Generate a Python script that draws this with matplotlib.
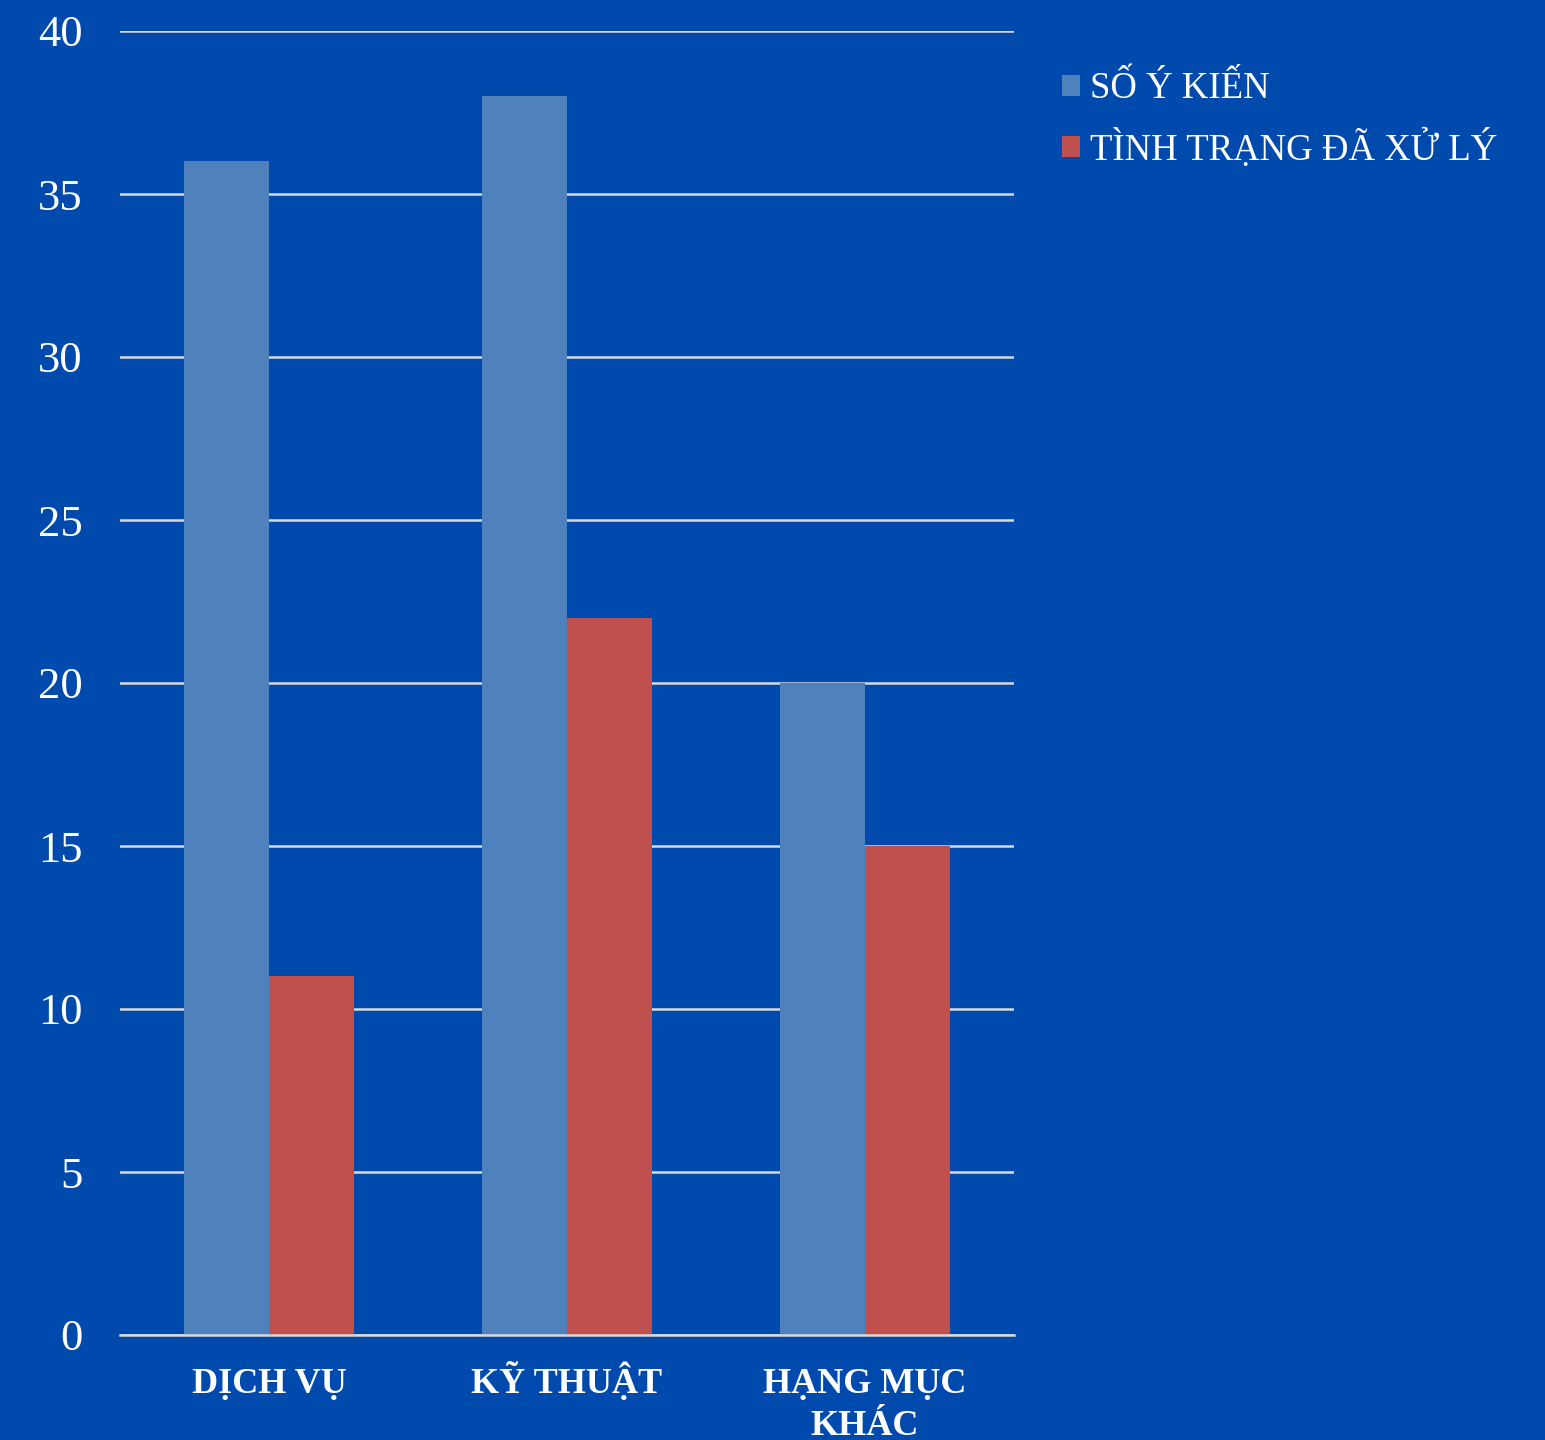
import matplotlib.pyplot as plt
import numpy as np

categories = ['DỊCH VỤ', 'KỸ THUẬT', 'HẠNG MỤC\nKHÁC']
so_y_kien = [36, 38, 20]
da_xu_ly = [11, 22, 15]
series_names = ['SỐ Ý KIẾN', 'TÌNH TRẠNG ĐÃ XỬ LÝ']

bg = '#004AAD'
plt.rcParams['font.family'] = ['Liberation Serif', 'DejaVu Serif']

fig = plt.figure(figsize=(15.45, 14.4), dpi=100, facecolor=bg)
ax = fig.add_axes([120 / 1545, 105 / 1440, 894 / 1545, 1304 / 1440])
ax.set_facecolor(bg)

x = np.arange(len(categories))
w = 85 / 298
ax.bar(x - w / 2, so_y_kien, w, color='#4F81BD', label=series_names[0], zorder=2)
ax.bar(x + w / 2, da_xu_ly, w, color='#C0504D', label=series_names[1], zorder=2)

ax.set_xlim(-0.5, 2.5)
ax.set_ylim(0, 40)
ax.set_yticks(range(0, 41, 5))
ax.yaxis.grid(True, color='#D9D9D9', linewidth=1.8, zorder=1)
ax.set_axisbelow(True)
for s in ['top', 'right', 'left']:
    ax.spines[s].set_visible(False)
ax.spines['bottom'].set_color('#D9D9D9')
ax.spines['bottom'].set_linewidth(1.8)
ax.spines['bottom'].set_zorder(3)

ax.tick_params(axis='y', length=0, pad=27, labelsize=32, labelcolor='white')
ax.set_xticks(x)
ax.set_xticklabels([])
ax.tick_params(axis='x', length=0)

# category labels: one text per line so baselines line up
for xi, lab in zip(x, categories):
    for k, line in enumerate(lab.split('\n')):
        ax.text(xi, -(58 + 42 * k) / 1304, line, transform=ax.get_xaxis_transform(),
                ha='center', va='baseline', fontsize=26, fontweight='bold',
                color='white')

fig.legend(loc='upper left', bbox_to_anchor=(1062 / 1545, 1 - 72 / 1440),
           frameon=False, fontsize=26.5, labelcolor='white', handlelength=0.5,
           handleheight=0.5, handletextpad=0.27, labelspacing=0.6,
           borderpad=0, borderaxespad=0)

fig.savefig('out.png', dpi=100, facecolor=bg)
